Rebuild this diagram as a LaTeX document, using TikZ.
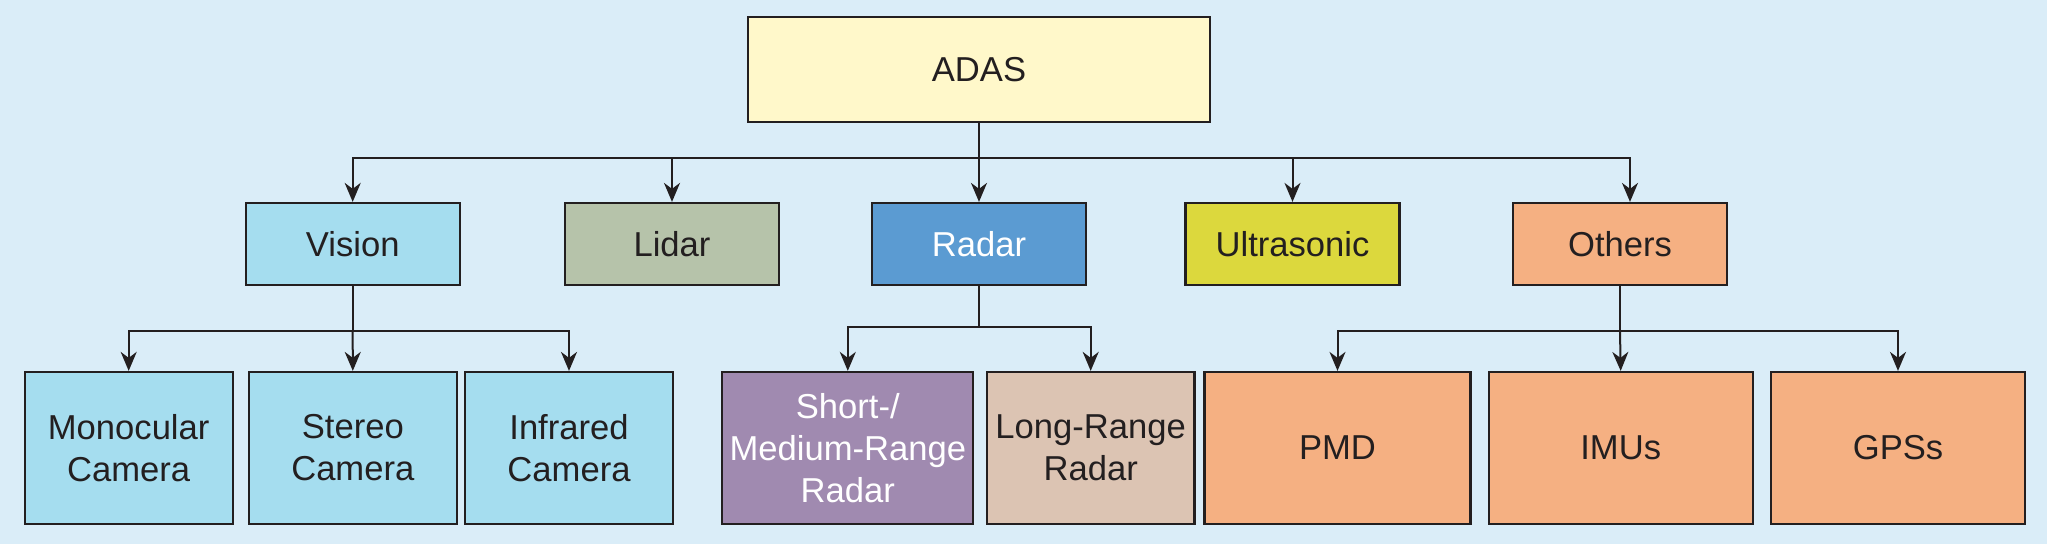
\documentclass[tikz,border=0pt]{standalone}
\usepackage{fontspec}
\setmainfont{Liberation Sans}
\usetikzlibrary{arrows.meta}
\definecolor{bgc}{HTML}{DAEDF8}
\definecolor{adasc}{HTML}{FFF8CA}
\definecolor{visc}{HTML}{A5DDEF}
\definecolor{lidc}{HTML}{B6C3AA}
\definecolor{radc}{HTML}{5B9BD2}
\definecolor{ultc}{HTML}{DCD83D}
\definecolor{othc}{HTML}{F5B082}
\definecolor{shc}{HTML}{A08AB0}
\definecolor{lrc}{HTML}{DCC4B3}
\definecolor{linec}{HTML}{231F20}
\tikzset{
  box/.style={draw=linec, line width=1.1pt, inner sep=0pt, align=center,
    font=\fontsize{17.3}{21}\selectfont, text=linec},
  arr/.style={draw=linec, line width=1pt, -{Stealth[length=9.5pt,width=8pt,inset=3pt]}},
  ln/.style={draw=linec, line width=1pt},
}
\begin{document}
\begin{tikzpicture}[x=0.5pt,y=-0.5pt]
\useasboundingbox (0,0) rectangle (2047,544);
\fill[bgc] (0,0) rectangle (2047,544);
% top
\node[box, fill=adasc, minimum width=231pt, minimum height=52.5pt] (adas) at (979,69.5) {ADAS};
% row 2
\node[box, fill=visc, minimum width=107pt, minimum height=41pt] (vision) at (352.7,244) {Vision};
\node[box, fill=lidc, minimum width=107pt, minimum height=41pt] (lidar) at (672,244) {Lidar};
\node[box, fill=radc, minimum width=107pt, minimum height=41pt, text=white] (radar) at (979,244) {Radar};
\node[box, fill=ultc, minimum width=107pt, minimum height=41pt] (ultra) at (1292.5,244) {Ultrasonic};
\node[box, fill=othc, minimum width=107pt, minimum height=41pt] (others) at (1620,244) {Others};
% row 3
\node[box, fill=visc, minimum width=104pt, minimum height=76pt] (mono) at (128.7,448) {Monocular\\Camera};
\node[box, fill=visc, minimum width=104pt, minimum height=76pt] (stereo) at (352.8,448) {Stereo\\Camera};
\node[box, fill=visc, minimum width=104pt, minimum height=76pt] (infra) at (569,448) {Infrared\\Camera};
\node[box, fill=shc, minimum width=125.5pt, minimum height=76pt, text=white] (short) at (847.8,448) {Short-/\\Medium-Range\\Radar};
\node[box, fill=lrc, minimum width=103.75pt, minimum height=76pt] (long) at (1090.7,448) {Long-Range\\Radar};
\node[box, fill=othc, minimum width=133pt, minimum height=76pt] (pmd) at (1337.5,448) {PMD};
\node[box, fill=othc, minimum width=132pt, minimum height=76pt] (imus) at (1620.7,448) {IMUs};
\node[box, fill=othc, minimum width=127pt, minimum height=76pt] (gps) at (1898,448) {GPSs};
% connectors from ADAS
\coordinate (b1) at (979,158.5);
\draw[ln] (adas.south) -- (b1);
\draw[arr] (b1) -| (vision.north);
\draw[arr] (b1) -| (lidar.north);
\draw[arr] (b1) -- (radar.north);
\draw[arr] (b1) -| (ultra.north);
\draw[arr] (b1) -| ([xshift=5pt]others.north);
% vision group
\coordinate (b2) at (352.7,331);
\draw[ln] (vision.south) -- (b2);
\draw[arr] (b2) -| (mono.north);
\draw[arr] (b2) -- (stereo.north);
\draw[arr] (b2) -| (infra.north);
% radar group
\coordinate (b3) at (979,327);
\draw[ln] (radar.south) -- (b3);
\draw[arr] (b3) -| (short.north);
\draw[arr] (b3) -| (long.north);
% others group
\coordinate (b4) at (1620,331);
\draw[ln] (others.south) -- (b4);
\draw[arr] (b4) -| (pmd.north);
\draw[arr] (b4) -- (imus.north);
\draw[arr] (b4) -| (gps.north);
\end{tikzpicture}
\end{document}
